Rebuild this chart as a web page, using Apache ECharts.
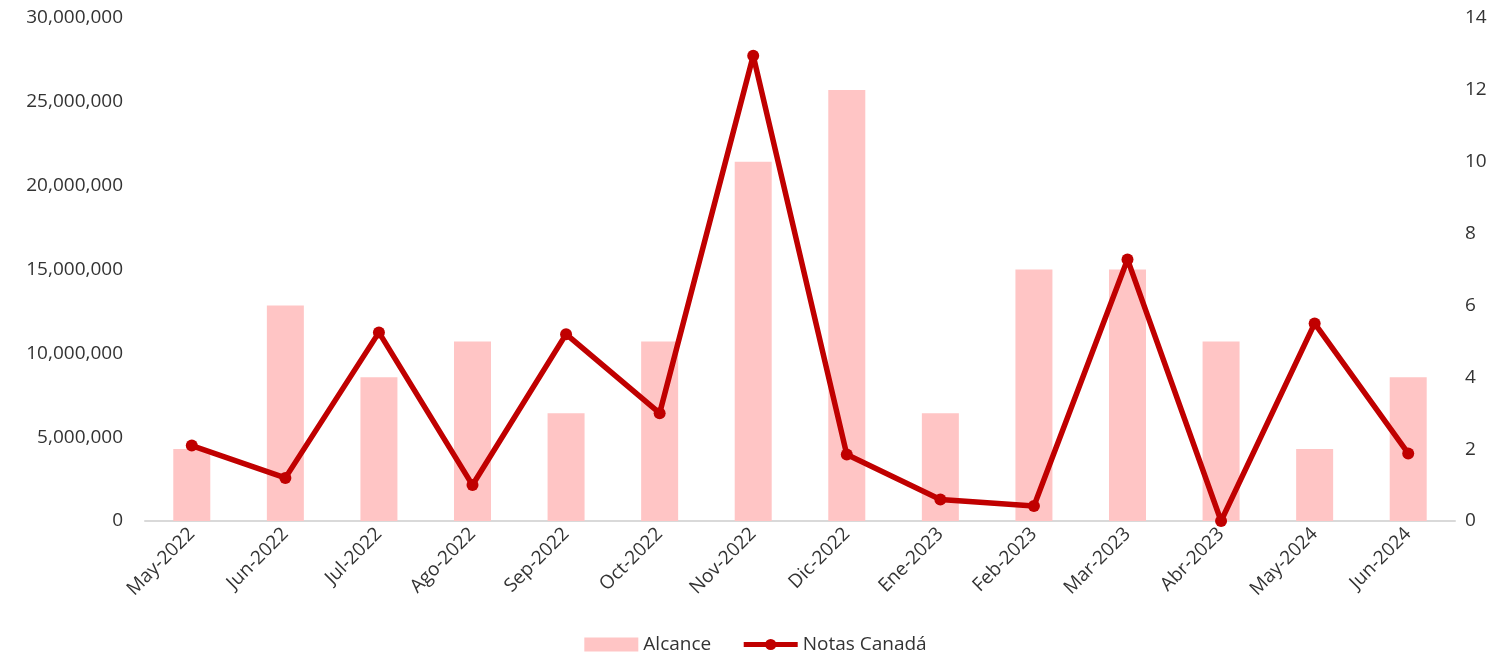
<!DOCTYPE html>
<html>
<head>
<meta charset="utf-8">
<script src="https://cdn.jsdelivr.net/npm/echarts@6/dist/echarts.min.js"></script>
<style>
  html, body { margin: 0; padding: 0; background: #fff; }
  #chart { width: 1511px; height: 659px; }
</style>
</head>
<body>
<div id="chart"></div>
<script>
// datos
const meses = ['May-2022', 'Jun-2022', 'Jul-2022', 'Ago-2022', 'Sep-2022', 'Oct-2022', 'Nov-2022',
  'Dic-2022', 'Ene-2023', 'Feb-2023', 'Mar-2023', 'Abr-2023', 'May-2024', 'Jun-2024']
const alcance = [4300000, 12860000, 8570000, 10710000, 6430000, 10710000, 21430000,
  25710000, 6430000, 15000000, 15000000, 10710000, 4300000, 8570000]
const notasCanada = [2.1, 1.2, 5.25, 1.0, 5.2, 3.0, 12.95, 1.85, 0.6, 0.42, 7.28, 0, 5.5, 1.88]

const chart = echarts.init(document.getElementById('chart'))
const textColor = '#333333'
const font = 'Open Sans'

chart.setOption({
  animation: false,
  grid: {
    left: 145,
    right: 56,
    top: 18,
    bottom: 138
  },
  legend: {
    bottom: 0,
    left: 'center',
    itemGap: 30,
    itemWidth: 54,
    itemHeight: 14,
    textStyle: { color: textColor, fontSize: 19, fontFamily: font },
    data: [
      { name: 'Alcance', icon: 'rect' },
      { name: 'Notas Canadá', lineStyle: { width: 5 } }
    ]
  },
  xAxis: {
    type: 'category',
    data: meses,
    axisLine: { lineStyle: { color: '#d9d9d9', width: 2 } },
    axisTick: { show: false },
    axisLabel: {
      rotate: 45,
      interval: 0,
      color: textColor,
      fontSize: 19,
      fontFamily: font,
      margin: 10
    }
  },
  yAxis: [
    {
      type: 'value',
      min: 0,
      max: 30000000,
      interval: 5000000,
      splitLine: { show: false },
      axisLine: { show: false },
      axisLabel: {
        color: textColor,
        fontSize: 19,
        fontFamily: font,
        margin: 22,
        formatter: v => v.toLocaleString('en-US')
      }
    },
    {
      type: 'value',
      min: 0,
      max: 14,
      interval: 2,
      splitLine: { show: false },
      axisLine: { show: false },
      axisLabel: { color: textColor, fontSize: 19, fontFamily: font, margin: 10 }
    }
  ],
  series: [
    {
      name: 'Alcance',
      type: 'bar',
      data: alcance,
      barWidth: 37,
      itemStyle: { color: '#ffc5c5' }
    },
    {
      name: 'Notas Canadá',
      type: 'line',
      yAxisIndex: 1,
      data: notasCanada,
      symbol: 'circle',
      symbolSize: 12,
      lineStyle: { color: '#c00000', width: 5.5 },
      itemStyle: { color: '#c00000' }
    }
  ]
})
</script>
</body>
</html>
